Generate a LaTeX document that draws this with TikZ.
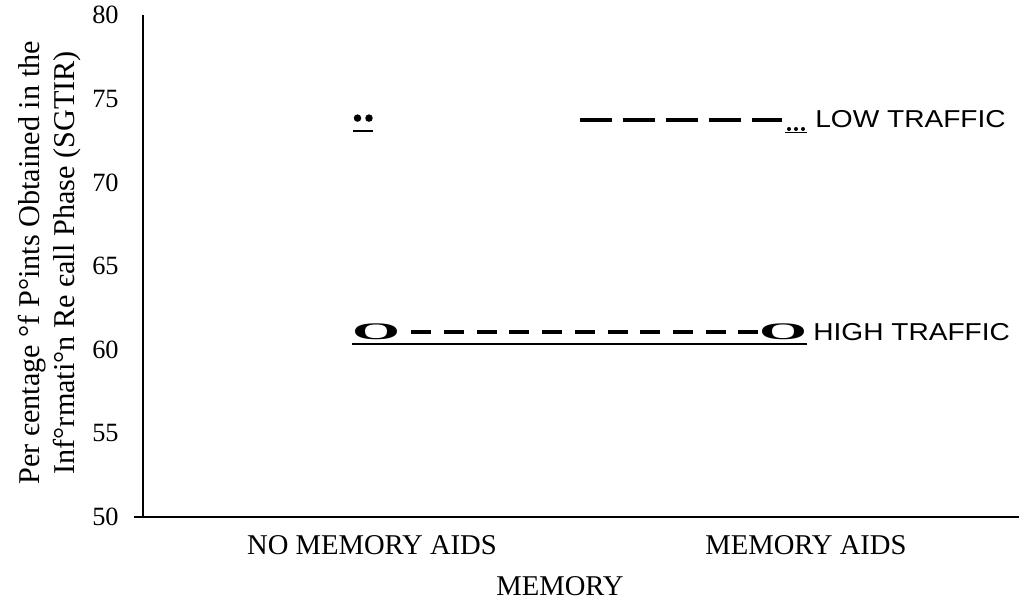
\documentclass[tikz,border=0pt]{standalone}
\usepackage{fontspec}
\usepackage{graphicx}
\usepackage{tikz}
\setmainfont{Liberation Serif}
\newfontfamily\trafficfont[FakeStretch=1.15]{Liberation Sans}

\tikzset{
    every node/.style={inner sep=0pt},
    axisline/.style={line width=1.1pt},
    ticklabel/.style={anchor=east, font=\fontsize{15}{18}\selectfont},
    catlabel/.style={font=\fontsize{16.3}{19}\selectfont},
    trafficlabel/.style={anchor=base west, font=\trafficfont\fontsize{13.9}{16}\selectfont},
    highmark/.style={font=\fontsize{13.5}{16}\selectfont\bfseries},
    lowdash/.style={line width=2.3pt, dash pattern=on 18.2pt off 6.26pt},
    highdash/.style={line width=1.9pt, dash pattern=on 11.38pt off 7.23pt},
    underline/.style={line width=0.85pt},
}

\begin{document}
\begin{tikzpicture}[x=0.02cm, y=0.02cm]
\useasboundingbox (0,0) rectangle (1019,601);
\begin{scope}[y=0.3346cm, yshift=-15.05cm]
    % axes
    \draw[axisline] (143,80) -- (143,50);
    \draw[axisline] (134,50) -- (1019,50);

    \foreach \v in {50,55,...,80}
        \node[ticklabel] (tick\v) at (119,\v) {\v};

    \node[catlabel] (noaids) at (372,48.33) {NO MEMORY AIDS};
    \node[catlabel] (aids) at (806,48.33) {MEMORY AIDS};
    \node[catlabel] (memory) at (560,45.88) {MEMORY};

    \node[rotate=90, align=center, font=\fontsize{17.2}{20}\selectfont] (ytitle) at (50,65.2)
        {Per єentage °f P°ints Obtained in the\\Inf°rmati°n Re єall Phase (SGTIR)};

    % low traffic
    \coordinate (low-no) at (363,73.85);
    \fill ([xshift=-0.11cm]low-no) circle (0.075cm);
    \fill ([xshift=0.12cm]low-no) circle (0.075cm);
    \draw[underline] (353,73.09) -- (373,73.09);
    \coordinate (low-start) at (580,73.73);
    \coordinate (low-aids) at (796,73.73);
    \draw[lowdash, shorten >=8pt] (low-start) -- (low-aids);
    \foreach \x in {789,796,803}
        \fill (\x,73.2) circle (0.04cm);
    \draw[underline] (785,72.99) -- (807,72.99);
    \node[trafficlabel] (low-label) at (815,73.31) {LOW TRAFFIC};

    % high traffic
    \node[highmark] (high-no) at (376,61.06) {\scalebox{2.6}[1]{O}};
    \node[highmark] (high-aids) at (783,61.06) {\scalebox{2.6}[1]{O}};
    \draw[highdash, shorten <=6.3pt] (high-no) -- (high-aids);
    \draw[underline] (352,60.34) -- (807,60.34);
    \node[trafficlabel] (high-label) at (813,60.58) {HIGH TRAFFIC};
\end{scope}
\end{tikzpicture}
\end{document}
